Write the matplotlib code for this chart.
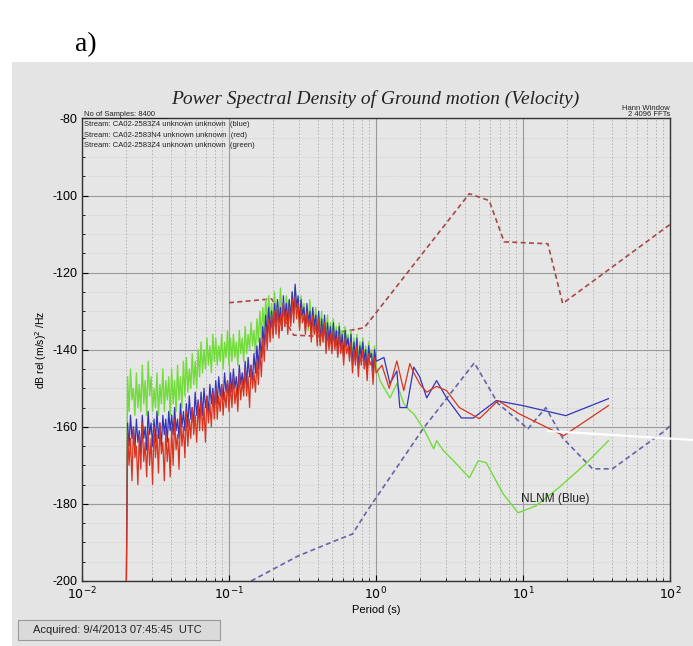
import numpy as np
import matplotlib
matplotlib.use("Agg")
import matplotlib.pyplot as plt
from matplotlib.lines import Line2D
from matplotlib.patches import Rectangle
from matplotlib.ticker import FixedLocator, LogLocator, NullFormatter

plt.rcParams['font.family'] = ['Liberation Sans', 'DejaVu Sans']
plt.rcParams['axes.unicode_minus'] = False

# log10(period) grid of the dense (noisy) part of the spectra
noisy_logp = [
    -1.70,
    -1.69, -1.68, -1.67, -1.66, -1.65, -1.64, -1.63, -1.62, -1.61, -1.60,
    -1.59, -1.58, -1.57, -1.56, -1.55, -1.54, -1.53, -1.52, -1.51, -1.50,
    -1.49, -1.48, -1.47, -1.46, -1.45, -1.44, -1.43, -1.42, -1.41, -1.40,
    -1.39, -1.38, -1.37, -1.36, -1.35, -1.34, -1.33, -1.32, -1.31, -1.30,
    -1.29, -1.28, -1.27, -1.26, -1.25, -1.24, -1.23, -1.22, -1.21, -1.20,
    -1.19, -1.18, -1.17, -1.16, -1.15, -1.14, -1.13, -1.12, -1.11, -1.10,
    -1.09, -1.08, -1.07, -1.06, -1.05, -1.04, -1.03, -1.02, -1.01, -1.00,
    -0.99, -0.98, -0.97, -0.96, -0.95, -0.94, -0.93, -0.92, -0.91, -0.90,
    -0.89, -0.88, -0.87, -0.86, -0.85, -0.84, -0.83, -0.82, -0.81, -0.80,
    -0.79, -0.78, -0.77, -0.76, -0.75, -0.74, -0.73, -0.72, -0.71, -0.70,
    -0.69, -0.68, -0.67, -0.66, -0.65, -0.64, -0.63, -0.62, -0.61, -0.60,
    -0.59, -0.58, -0.57, -0.56, -0.55, -0.54, -0.53, -0.52, -0.51, -0.50,
    -0.49, -0.48, -0.47, -0.46, -0.45, -0.44, -0.43, -0.42, -0.41, -0.40,
    -0.39, -0.38, -0.37, -0.36, -0.35, -0.34, -0.33, -0.32, -0.31, -0.30,
    -0.29, -0.28, -0.27, -0.26, -0.25, -0.24, -0.23, -0.22, -0.21, -0.20,
    -0.19, -0.18, -0.17, -0.16, -0.15, -0.14, -0.13, -0.12, -0.11, -0.10,
    -0.09, -0.08, -0.07, -0.06, -0.05, -0.04, -0.03, -0.02, -0.01, 0.00,
]

green_noisy = [
    -210,
    -147, -156, -145, -153, -150, -157, -146, -155, -149, -156,
    -144, -154, -148, -157, -143, -152, -147, -156, -150, -155,
    -146, -157, -149, -154, -145, -156, -148, -153, -147, -157,
    -145, -154, -148, -156, -144, -153, -147, -155, -143, -152,
    -142, -151, -145, -150, -141, -149, -143, -150, -140, -147,
    -138, -146, -140, -145, -137, -144, -139, -146, -136, -143,
    -137, -144, -139, -143, -136, -145, -138, -142, -135, -144,
    -137, -143, -136, -142, -138, -144, -135, -141, -137, -143,
    -134, -141, -136, -140, -133, -139, -135, -141, -132, -138,
    -130, -137, -129, -135, -127, -133, -126, -132, -128, -134,
    -125, -132, -127, -133, -124, -131, -128, -134, -126, -130,
    -127, -133, -125, -131, -124, -130, -127, -134, -126, -132,
    -128, -134, -129, -135, -127, -133, -130, -136, -129, -134,
    -131, -136, -130, -138, -132, -137, -131, -139, -133, -137,
    -132, -138, -134, -140, -133, -139, -135, -141, -134, -138,
    -136, -141, -135, -143, -137, -142, -136, -144, -138, -141,
    -137, -143, -139, -145, -138, -142, -140, -147, -139, -144,
]
blue_noisy = [
    -210,
    -159, -165, -157, -163, -160, -166, -158, -164, -161, -167,
    -157, -163, -160, -166, -156, -162, -159, -165, -158, -164,
    -156, -163, -159, -165, -157, -162, -158, -164, -156, -161,
    -157, -162, -155, -161, -158, -163, -154, -160, -156, -161,
    -154, -160, -152, -158, -155, -159, -151, -157, -153, -158,
    -151, -157, -150, -155, -152, -156, -149, -154, -150, -155,
    -148, -154, -147, -152, -149, -153, -146, -151, -148, -152,
    -146, -151, -145, -150, -147, -152, -144, -149, -146, -150,
    -143, -149, -142, -147, -144, -148, -141, -146, -139, -145,
    -137, -142, -134, -139, -131, -137, -129, -135, -130, -136,
    -128, -134, -127, -133, -129, -135, -126, -132, -128, -133,
    -127, -132, -125, -131, -123, -129, -126, -133, -127, -131,
    -129, -135, -128, -133, -130, -136, -129, -134, -131, -137,
    -130, -138, -132, -137, -131, -139, -133, -138, -134, -140,
    -133, -139, -135, -141, -134, -140, -136, -142, -135, -139,
    -137, -142, -136, -144, -138, -143, -137, -145, -139, -142,
    -138, -143, -140, -146, -139, -142, -141, -146, -140, -143,
]
red_noisy = [
    -210,
    -161, -170, -163, -174, -160, -168, -165, -175, -162, -171,
    -159, -169, -164, -173, -161, -170, -163, -175, -160, -168,
    -162, -172, -159, -167, -164, -174, -161, -169, -163, -173,
    -160, -170, -158, -166, -162, -171, -157, -165, -160, -168,
    -156, -165, -158, -163, -155, -162, -157, -164, -154, -161,
    -153, -161, -155, -164, -152, -159, -154, -160, -151, -158,
    -150, -158, -152, -156, -149, -157, -151, -155, -148, -156,
    -149, -155, -147, -154, -150, -156, -146, -153, -148, -152,
    -145, -152, -147, -155, -144, -150, -146, -151, -143, -149,
    -140, -147, -137, -143, -134, -140, -132, -138, -131, -137,
    -130, -136, -129, -137, -131, -135, -128, -134, -130, -136,
    -129, -134, -127, -133, -126, -132, -128, -135, -129, -133,
    -131, -136, -130, -134, -132, -138, -131, -136, -133, -139,
    -132, -139, -134, -138, -133, -141, -135, -140, -136, -141,
    -135, -140, -137, -142, -136, -141, -138, -144, -137, -141,
    -139, -143, -138, -146, -140, -144, -139, -147, -141, -144,
    -140, -145, -142, -148, -141, -144, -143, -149, -142, -146,
]

# smoother long-period parts of the spectra
blue_tail_logp = [0.054, 0.095, 0.142, 0.162, 0.209, 0.257, 0.297, 0.345, 0.412,
                  0.480, 0.581, 0.662, 0.818, 1.000, 1.291, 1.581]
blue_tail = [-142, -148.8, -145.5, -155, -155, -144.5, -147, -152.5, -148,
             -152.5, -157.7, -157.7, -153.2, -154.5, -157.1, -152.7]
red_tail_logp = [0.040, 0.090, 0.142, 0.189, 0.230, 0.257, 0.300, 0.345, 0.412,
                 0.480, 0.567, 0.703, 0.831, 0.973, 1.277, 1.581]
red_tail = [-144, -150, -142.9, -150.6, -143.6, -146, -149, -151, -149.5,
            -150.6, -155, -157.9, -153.2, -156.6, -162.3, -154.5]
green_tail_logp = [0.027, 0.095, 0.142, 0.189, 0.230, 0.257, 0.331, 0.392, 0.412,
                   0.459, 0.527, 0.635, 0.696, 0.750, 0.865, 0.966, 1.088, 1.243,
                   1.426, 1.581]
green_tail = [-148, -152.5, -148.8, -154, -155.8, -156.6, -161, -165.7, -163.6,
              -166.2, -168.8, -173.2, -168.8, -169.3, -177.4, -182.3, -180.5, -175.8,
              -169.6, -163.6]

# noise model curves (dashed)
high_logp = [-1.00, -0.71, -0.56, -0.40, -0.08, 0.635, 0.77, 0.872, 1.169, 1.27, 2.0]
high_db = [-127.8, -126.8, -136.2, -136.5, -134.3, -99.5, -101.3, -112, -112.5, -128, -107.5]
low_logp = [-0.85, -0.53, -0.28, -0.16, -0.06, 0.324, 0.669, 0.831, 1.034, 1.155,
            1.27, 1.473, 1.608, 1.966, 2.0]
low_db = [-200, -193.5, -189.6, -187.8, -181.8, -160.3, -143.4, -154, -160.5, -155,
          -162.9, -170.9, -170.9, -161, -159.7]

y_ticks = [-80, -100, -120, -140, -160, -180, -200]
x_ticks = [0.01, 0.1, 1, 10, 100]
x_labels = ['$10^{-2}$', '$10^{-1}$', '$10^{0}$', '$10^{1}$', '$10^{2}$']

stream_lines = [
    "Stream: CA02-2583Z4 unknown unknown  (blue)",
    "Stream: CA02-2583N4 unknown unknown  (red)",
    "Stream: CA02-2583Z4 unknown unknown  (green)",
]


def period(logp):
    return 10 ** np.array(logp)


fig = plt.figure(figsize=(6.93, 6.46), dpi=100)
fig.patch.set_facecolor('white')

# grey application window behind the plot
bg = fig.add_axes([0, 0, 1, 1], zorder=-1)
bg.set_xlim(0, 693)
bg.set_ylim(646, 0)
bg.axis('off')
bg.add_patch(Rectangle((12, 62), 681, 584, facecolor='#e4e4e4', edgecolor='none'))
bg.add_patch(Rectangle((18, 620), 202, 20, facecolor='#dadada', edgecolor='#9a9a9a', lw=0.8))
bg.text(33, 630, 'Acquired: 9/4/2013 07:45:45  UTC', fontsize=8,
        ha='left', va='center', color='#222222')
bg.text(75, 45, 'a)', fontsize=20, ha='left', va='center',
        family=['Liberation Serif', 'DejaVu Serif'])

ax = fig.add_axes([82 / 693, 1 - 581 / 646, 588 / 693, 462.5 / 646], zorder=1)
ax.set_facecolor('#e6e6e6')
ax.set_xscale('log')
ax.set_xlim(0.01, 100)
ax.set_ylim(-200, -80)

ax.yaxis.set_major_locator(FixedLocator(y_ticks))
ax.yaxis.set_minor_locator(FixedLocator(list(range(-200, -79, 5))))
ax.xaxis.set_major_locator(FixedLocator(x_ticks))
ax.set_xticklabels(x_labels)
ax.xaxis.set_minor_locator(LogLocator(base=10, subs=np.arange(2, 10)))
ax.xaxis.set_minor_formatter(NullFormatter())
ax.grid(True, which='major', color='#9a9a9a', lw=0.8)
ax.grid(True, which='minor', axis='x', color='#a0a0a0', lw=0.6, ls=(0, (1.5, 2.5)))
ax.grid(True, which='minor', axis='y', color='#c4c4c4', lw=0.5, ls=(0, (1.5, 2.5)))
ax.tick_params(which='both', direction='in', top=False, right=False, labelsize=9)
ax.tick_params(which='major', length=4)
ax.tick_params(which='minor', length=2)
for s in ax.spines.values():
    s.set_color('#333333')
    s.set_linewidth(1.0)

# noise models
ax.plot(period(high_logp), high_db, color='#a84848', lw=1.2, ls=(0, (3, 2)), zorder=2)
ax.plot(period(low_logp), low_db, color='#6464a8', lw=1.2, ls=(0, (3, 2)), zorder=2)

# spectra
ax.plot(period(noisy_logp + green_tail_logp), green_noisy + green_tail,
        color='#72dc3c', lw=1.0, zorder=3)
ax.plot(period(noisy_logp + blue_tail_logp), blue_noisy + blue_tail,
        color='#3434b8', lw=0.9, zorder=4)
ax.plot(period(noisy_logp + red_tail_logp), red_noisy + red_tail,
        color='#d83420', lw=0.9, zorder=5)

ax.text(9.7, -178.7, 'NLNM (Blue)', fontsize=8.5, va='center', ha='left', color='#222222')

ax.set_xlabel('Period (s)', fontsize=8, labelpad=2)
ax.set_ylabel('dB rel (m/s)$^2$ /Hz', fontsize=7.5, labelpad=2)

# header texts
fig.text(0.542, 1 - 99 / 646, 'Power Spectral Density of Ground motion (Velocity)',
         ha='center', va='center', fontsize=14, style='italic',
         family=['Liberation Serif', 'DejaVu Serif'], color='#222222')
fig.text(84 / 693, 1 - 114 / 646, 'No of Samples: 8400', fontsize=5.5,
         va='center', ha='left', color='#222222')
fig.add_artist(Line2D([84 / 693, 168 / 693], [1 - 117.5 / 646] * 2, color='#222222', lw=0.6))
for i, line in enumerate(stream_lines):
    fig.text(84 / 693, 1 - (124.5 + 10.7 * i) / 646, line, fontsize=5.5,
             va='center', ha='left', color='#222222')
fig.text(670 / 693, 1 - 108 / 646, 'Hann Window', fontsize=5.5, ha='right', va='center',
         color='#222222')
fig.text(670 / 693, 1 - 115 / 646, '2 4096 FFTs', fontsize=5.5, ha='right', va='center',
         color='#222222')

# white scan streak on the right
fig.add_artist(Line2D([548 / 693, 1.0], [1 - 431 / 646, 1 - 440 / 646], color='white', lw=1.6))

fig.savefig('out.png', dpi=100)
